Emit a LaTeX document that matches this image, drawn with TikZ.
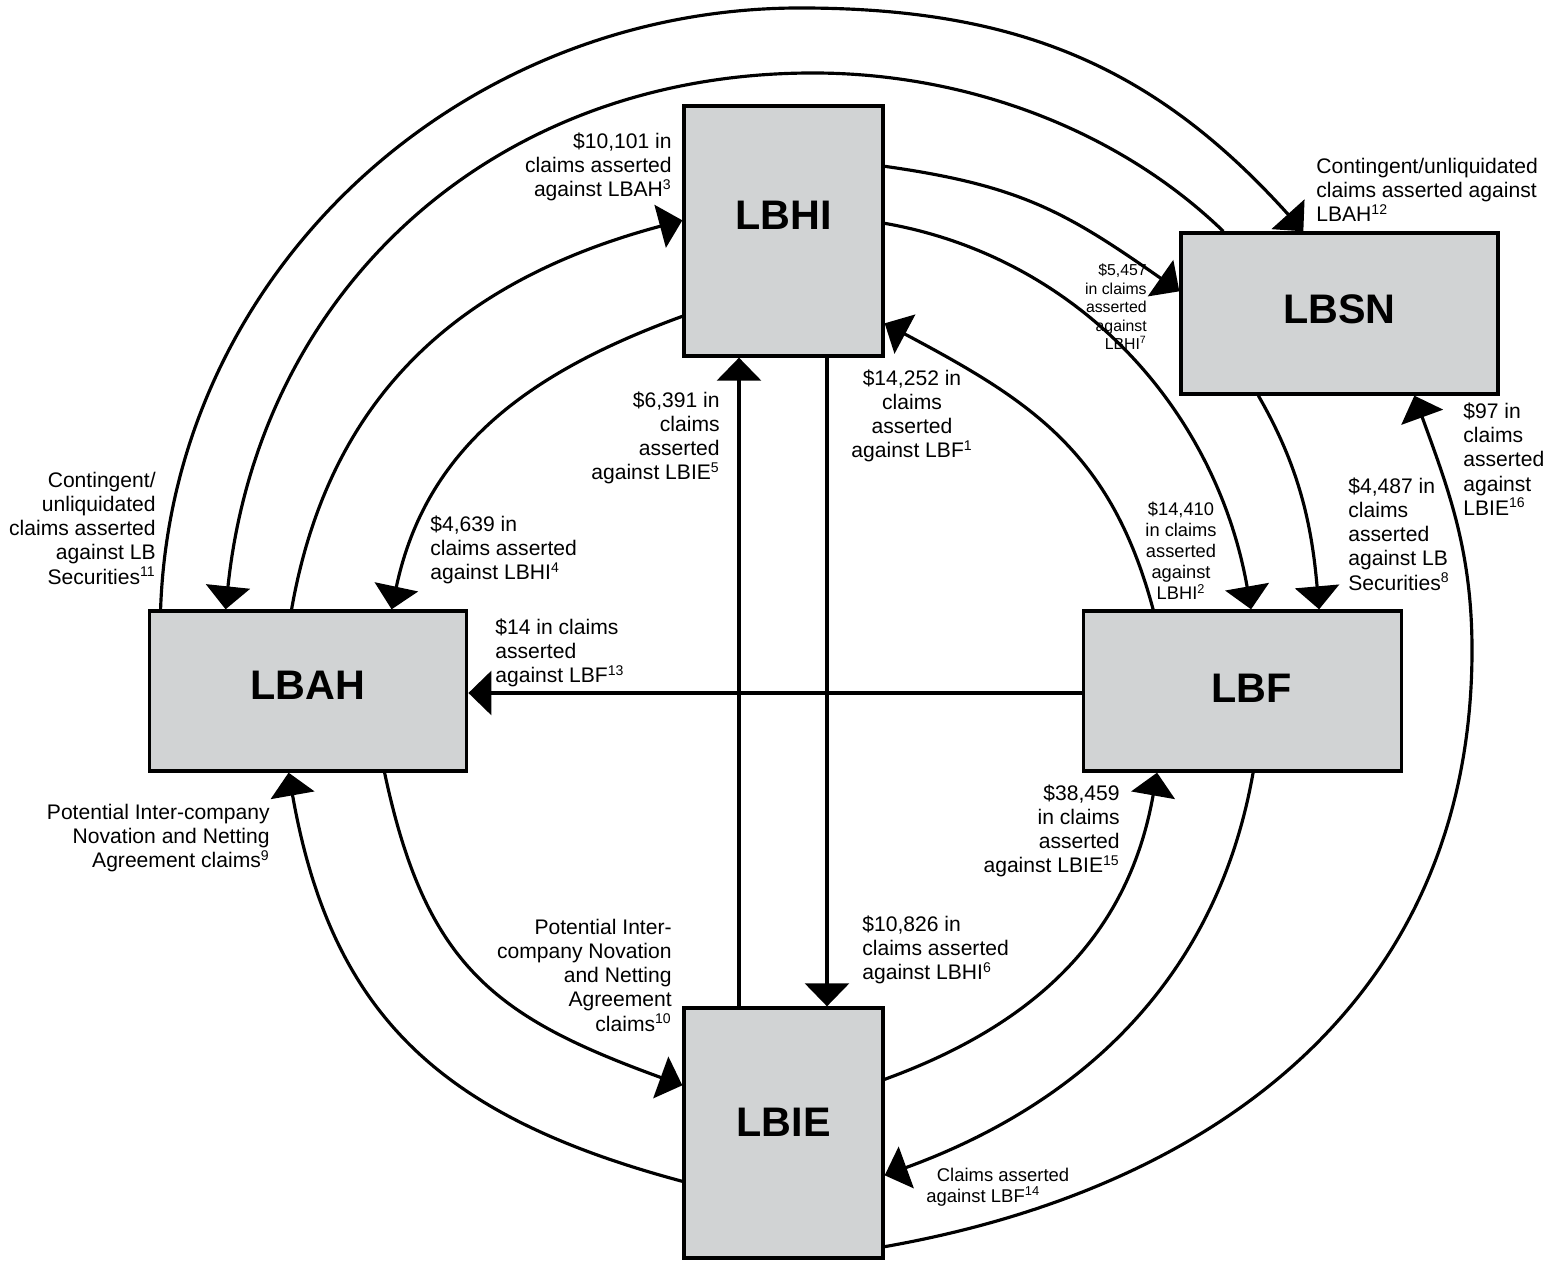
\documentclass[tikz,border=0pt]{standalone}
\usepackage{fontspec}
\setmainfont{Liberation Sans}
\usetikzlibrary{arrows.meta,calc}
\definecolor{boxgray}{RGB}{209,211,212}
\tikzset{
  entity/.style={draw, line width=1.9pt, fill=boxgray, font=\fontsize{23.5}{28}\selectfont\bfseries},
  tall/.style={entity, minimum width=3.98cm, minimum height=5cm},
  wide/.style={entity, minimum width=6.35cm, minimum height=3.2cm},
  claim/.style={line width=1.8pt, -{Triangle[length=0.46cm,width=0.88cm]}},
  note/.style={inner sep=0pt, font=\fontsize{12}{13.8}\selectfont},
}

\begin{document}
\begin{tikzpicture}
			%%%%% CANVAS %%%%%
			\useasboundingbox (0,0) rectangle (31.24,25.2);
			
			%%%%% ENTITIES %%%%%
			\node[tall, text depth=18pt] (LBHI) at (15.67,20.58) {LBHI};
			\node[wide, text depth=5pt, minimum width=6.34cm, minimum height=3.22cm] (LBSN) at (26.79,18.93) {LBSN};
			\node[wide, text depth=7pt] (LBAH) at (6.16,11.38) {LBAH};
			\node[wide, text depth=3.5pt] (LBF) at (24.85,11.38) {\hspace*{10pt}LBF};
			\node[tall, text depth=12.5pt] (LBIE) at (15.67,2.54) {LBIE};
			
			%%%%% ARCS ON TOP %%%%%
			\draw[claim] ($(LBAH.north west)+(0.26,0)$) to[out=88,in=180,looseness=0.99] (16.0,25.04)
			  to[out=0,in=132,looseness=1.02] ($(LBSN.north west)+(2.48,0)$);
			\draw[claim] ($(LBSN.north west)+(0.88,0)$) to[out=136,in=0,looseness=0.87] (16.26,23.74)
			  to[out=180,in=84,looseness=1.03] ($(LBAH.north west)+(1.56,0)$);
			\draw[claim] ($(LBAH.north west)+(2.88,0)$) to[out=80,in=195,looseness=1.04] ($(LBHI.north west)+(0,-2.32)$);
			\draw[claim] ($(LBHI.north west)+(0,-4.24)$) to[out=200,in=78,looseness=1.02] ($(LBAH.north west)+(4.88,0)$);
			\draw[claim] ($(LBHI.north east)+(0,-1.24)$) to[out=-8,in=145,looseness=1.1] ($(LBSN.north west)+(0,-1.2)$);
			\draw[claim] ($(LBHI.north east)+(0,-2.38)$) to[out=-10,in=100,looseness=0.96] ($(LBF.north west)+(3.38,0)$);
			\draw[claim] ($(LBF.north west)+(1.42,0)$) to[out=105,in=-28,looseness=1.07] ($(LBHI.north east)+(0,-4.38)$);
			\draw[claim] ($(LBSN.south west)+(1.58,0)$) to[out=-60,in=95,looseness=0.96] ($(LBF.north west)+(4.74,0)$);
			
			%%%%% ARCS BELOW %%%%%
			\draw[claim] ($(LBIE.south east)+(0,0.26)$) to[out=10,in=-90,looseness=1.05] (29.44,12.2)
			  to[out=90,in=-70,looseness=0.975] ($(LBSN.south west)+(4.7,0)$);
			\draw[claim] ($(LBIE.north east)+(0,-1.46)$) to[out=20,in=-100,looseness=1.02] ($(LBF.south west)+(1.5,0)$);
			\draw[claim] ($(LBF.south west)+(3.42,0)$) to[out=-100,in=20,looseness=0.98] ($(LBIE.north east)+(0,-3.38)$);
			\draw[claim] ($(LBIE.north west)+(0,-3.5)$) to[out=165,in=-80,looseness=1.12] ($(LBAH.south west)+(2.82,0)$);
			\draw[claim] ($(LBAH.south west)+(4.74,0)$) to[out=-78,in=160,looseness=1.18] ($(LBIE.north west)+(0,-1.58)$);
			
			%%%%% STRAIGHT LINES %%%%%
			\draw[claim] ($(LBHI.south)+(0.87,0)$) -- ($(LBIE.north)+(0.87,0)$);
			\draw[claim] ($(LBIE.north)+(-0.89,0)$) -- ($(LBHI.south)+(-0.89,0)$);
			\draw[claim] ($(LBF.west)+(0,-0.04)$) -- ($(LBAH.east)+(0,-0.04)$);
			
			%%%%% LABELS %%%%%
			\node[note, anchor=east, align=right] (c3) at (13.44,21.86) {\$10,101 in\\claims asserted\\against LBAH\textsuperscript{3}};
			\node[note, anchor=east, align=right] (c11) at (3.12,14.64) {Contingent/\\unliquidated\\claims asserted\\against LB\\Securities\textsuperscript{11}};
			\node[note, anchor=west, align=left] (c4) at (8.6,14.2) {\$4,639 in\\claims asserted\\against LBHI\textsuperscript{4}};
			\node[note, anchor=east, align=right] (c5) at (14.4,16.44) {\$6,391 in\\claims\\asserted\\against LBIE\textsuperscript{5}};
			\node[note, align=center] (c1) at (18.24,16.88) {\$14,252 in\\claims\\asserted\\against LBF\textsuperscript{1}};
			\node[note, anchor=west, align=left] (c12) at (26.32,21.4) {Contingent/unliquidated\\claims asserted against\\LBAH\textsuperscript{12}};
			\node[note, anchor=east, align=right, font=\fontsize{9}{10.5}\selectfont] (c7) at (22.94,19.06) {\$5,457\\in claims\\asserted\\against\\LBHI\textsuperscript{7}};
			\node[note, align=center, font=\fontsize{10.4}{12}\selectfont] (c2) at (23.62,14.18) {\$14,410\\in claims\\asserted\\against\\LBHI\textsuperscript{2}};
			\node[note, anchor=west, align=left] (c8) at (26.96,14.52) {\$4,487 in\\claims\\asserted\\against LB\\Securities\textsuperscript{8}};
			\node[note, anchor=west, align=left] (c16) at (29.26,16.02) {\$97 in\\claims\\asserted\\against\\LBIE\textsuperscript{16}};
			\node[note, anchor=west, align=left] (c13) at (9.9,12.14) {\$14 in claims\\asserted\\against LBF\textsuperscript{13}};
			\node[note, anchor=east, align=right] (c9) at (5.4,8.44) {Potential Inter-company\\Novation and Netting\\Agreement claims\textsuperscript{9}};
			\node[note, anchor=east, align=right] (c10) at (13.44,5.7) {Potential Inter-\\company Novation\\and Netting\\Agreement\\claims\textsuperscript{10}};
			\node[note, anchor=east, align=right] (c15) at (22.4,8.58) {\$38,459\\in claims\\asserted\\against LBIE\textsuperscript{15}};
			\node[note, anchor=west, align=left] (c6) at (17.24,6.2) {\$10,826 in\\claims asserted\\against LBHI\textsuperscript{6}};
			\node[note, anchor=west, align=left, font=\fontsize{10.5}{12.2}\selectfont] (c14) at (18.52,1.46) {\hspace*{6pt}Claims asserted\\against LBF\textsuperscript{14}};
			
		\end{tikzpicture}
\end{document}
